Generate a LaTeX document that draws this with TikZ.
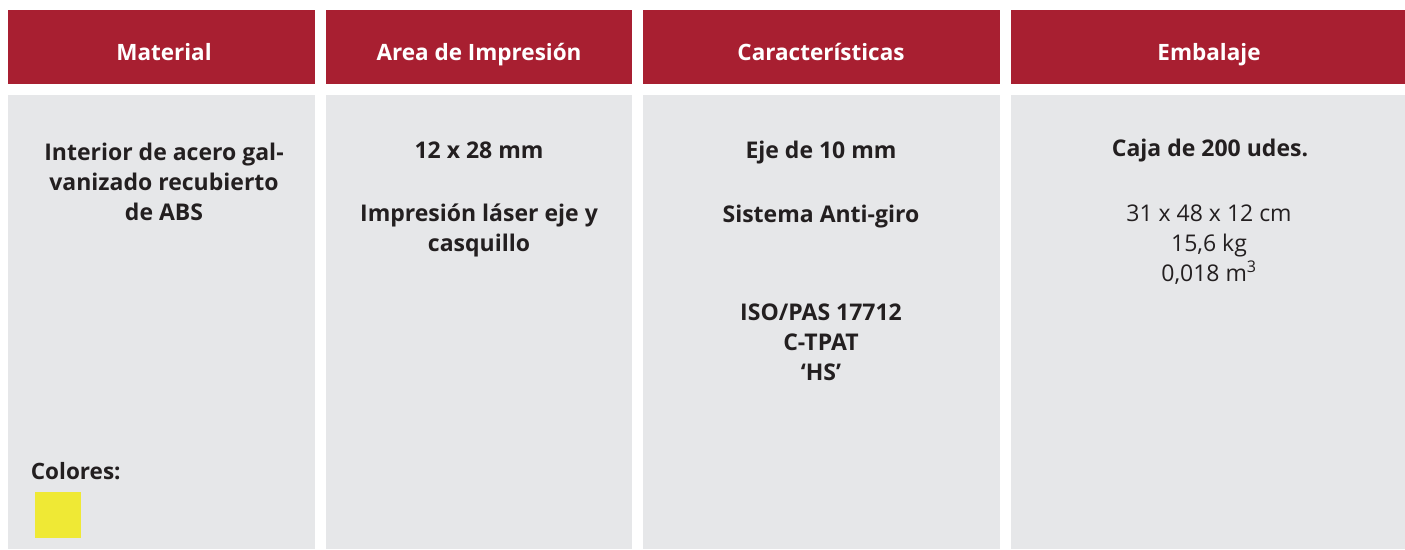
\documentclass[tikz,border=0pt]{standalone}
\usepackage{fontspec}
\setmainfont{Open Sans}
\usepackage{tikz}
\usetikzlibrary{positioning}

\definecolor{headred}{HTML}{A81F31}
\definecolor{cellgray}{HTML}{E6E7E9}
\definecolor{inkdark}{HTML}{231F20}
\definecolor{swatchyellow}{HTML}{EFE935}

\begin{document}
\begin{tikzpicture}[
  x=1pt, y=-1pt,
  head/.style={fill=headred, draw=none, anchor=north west, inner sep=0pt},
  cell/.style={fill=cellgray, draw=none, anchor=north west, inner sep=0pt},
  headtxt/.style={text=white, font=\fontsize{22.5}{30}\selectfont\bfseries, anchor=base},
  bodytxt/.style={text=inkdark, font=\fontsize{23}{30}\selectfont\bfseries, anchor=base, align=center, inner sep=0pt},
  plaintxt/.style={text=inkdark, font=\fontsize{23}{30}\selectfont, anchor=base, align=center, inner sep=0pt}
]
  \useasboundingbox (0,0) rectangle (1405,549);

  %% Headers
  \node[head, minimum width=307.7pt, minimum height=73.7pt] (hmat) at (7.3,10) {};
  \node[head, minimum width=306.3pt, minimum height=73.7pt] (hare) at (325.7,10) {};
  \node[head, minimum width=357.3pt, minimum height=73.7pt] (hcar) at (642.7,10) {};
  \node[head, minimum width=394pt, minimum height=73.7pt] (hemb) at (1011,10) {};

  %% Cells
  \node[cell, minimum width=307.7pt, minimum height=454pt] (cmat) at (7.3,95) {};
  \node[cell, minimum width=306.3pt, minimum height=454pt] (care) at (325.7,95) {};
  \node[cell, minimum width=357.3pt, minimum height=454pt] (ccar) at (642.7,95) {};
  \node[cell, minimum width=394pt, minimum height=454pt] (cemb) at (1011,95) {};

  %% Header texts
  \node[headtxt] (tmat) at (164,60) {Material};
  \node[headtxt] (tare) at (479,60) {Area de Impresión};
  \node[headtxt] (tcar) at (821,60) {Características};
  \node[headtxt] (temb) at (1209,60) {Embalaje};

  %% Material (base = last line)
  \node[bodytxt] (mat1) at (164,220) {Interior de acero gal-\\vanizado recubierto\\de ABS};
  \node[text=inkdark, font=\fontsize{22.5}{30}\selectfont\bfseries, anchor=base west, inner sep=0pt] (colores) at (30.7,479) {Colores:};
  \node[fill=swatchyellow, anchor=north west, minimum size=46pt, inner sep=0pt] (yellow) at (35,491.7) {};

  %% Area de impresion
  \node[bodytxt] (are1) at (479,158) {12 x 28 mm};
  \node[bodytxt] (are2) at (479,251.7) {Impresión láser eje y\\casquillo};

  %% Caracteristicas
  \node[bodytxt] (car1) at (821,158) {Eje de 10 mm};
  \node[bodytxt] (car2) at (821,222.7) {Sistema Anti-giro};
  \node[bodytxt] (car3) at (821,380) {ISO/PAS 17712\\C-TPAT\\‘HS’};

  %% Embalaje
  \node[bodytxt] (emb1) at (1210,156.7) {Caja de 200 udes.};
  \node[plaintxt] (emb2) at (1209,281.7) {31 x 48 x 12 cm\\15,6 kg\\0,018 m\textsuperscript{3}};
\end{tikzpicture}
\end{document}
